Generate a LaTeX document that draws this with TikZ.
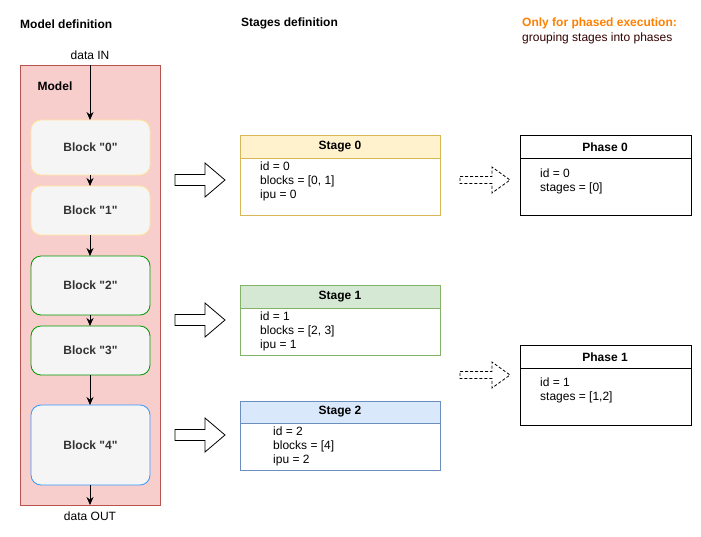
\documentclass[tikz,border=0pt]{standalone}
\usepackage{fontspec}
\setmainfont{Liberation Sans}[Ligatures=TeXOff]
\usetikzlibrary{arrows.meta}
\definecolor{modelfill}{HTML}{F8CECC}
\definecolor{modeldraw}{HTML}{B85450}
\definecolor{blockfill}{HTML}{F5F5F5}
\definecolor{yelDraw}{HTML}{FFE599}
\definecolor{grnDraw}{HTML}{009900}
\definecolor{bluDraw}{HTML}{3399FF}
\definecolor{s0fill}{HTML}{FFF2CC}
\definecolor{s0draw}{HTML}{D6B656}
\definecolor{s1fill}{HTML}{D5E8D4}
\definecolor{s1draw}{HTML}{82B366}
\definecolor{s2fill}{HTML}{DAE8FC}
\definecolor{s2draw}{HTML}{6C8EBF}
\definecolor{orangeT}{HTML}{FF8000}
\definecolor{darkT}{HTML}{330000}
\definecolor{blockT}{HTML}{333333}
\begin{document}
\begin{tikzpicture}[x=1pt,y=-1pt,
  txt/.style={font=\fontsize{12}{14}\selectfont, inner sep=0pt},
  btxt/.style={font=\fontsize{12}{14}\selectfont\bfseries, inner sep=0pt},
  blockbox/.style={draw, fill=blockfill, rounded corners=10pt, line width=0.8pt},
  flow/.style={-{Stealth[length=8pt,width=7pt]}, line width=0.8pt},
  body/.style={txt, align=left, anchor=west},
  hollow/.style={draw, fill=white, line width=0.8pt},
  dhollow/.style={draw, dashed, dash pattern=on 3pt off 2pt, line width=0.8pt}
]
\useasboundingbox (0,0) rectangle (701,536);

% titles
\node[btxt, anchor=west] (t1) at (20,24) {Model definition};
\node[btxt, anchor=west] (t2) at (241,23) {Stages definition};
\node[btxt, anchor=west, text=orangeT] (t3) at (522,23) {Only for phased execution:};
\node[txt, anchor=west, text=darkT] (t4) at (522,38) {grouping stages into phases};

% model
\draw[fill=modelfill, draw=modeldraw, line width=0.8pt] (20,65) rectangle (160,505);
\node[btxt] (modellbl) at (55,86) {Model};
\node[txt] (din) at (90,55) {data IN};
\node[txt] (dout) at (90,516) {data OUT};
\coordinate (mtop) at (90,65);
\coordinate (mbot) at (90,505);

% blocks
\draw[blockbox, draw=yelDraw] (31,120) rectangle (150,175);
\node[btxt, text=blockT] (b0) at (90.5,147.5) {Block "0"};
\draw[blockbox, draw=yelDraw] (31,186) rectangle (150,235);
\node[btxt, text=blockT] (b1) at (90.5,210.5) {Block "1"};
\draw[blockbox, draw=grnDraw] (31,256) rectangle (150,315);
\node[btxt, text=blockT] (b2) at (90.5,285.5) {Block "2"};
\draw[blockbox, draw=grnDraw] (31,326) rectangle (150,375);
\node[btxt, text=blockT] (b3) at (90.5,350.5) {Block "3"};
\draw[blockbox, draw=bluDraw] (31,405) rectangle (150,485);
\node[btxt, text=blockT] (b4) at (90.5,445) {Block "4"};

\coordinate (b0t) at (90,120); \coordinate (b0b) at (90,175);
\coordinate (b1t) at (90,186); \coordinate (b1b) at (90,235);
\coordinate (b2t) at (90,256); \coordinate (b2b) at (90,315);
\coordinate (b3t) at (90,326); \coordinate (b3b) at (90,375);
\coordinate (b4t) at (90,405); \coordinate (b4b) at (90,485);

\draw[flow] (mtop) -- (b0t);
\draw[flow] (b0b) -- (b1t);
\draw[flow] (b1b) -- (b2t);
\draw[flow] (b2b) -- (b3t);
\draw[flow] (b3b) -- (b4t);
\draw[flow] (b4b) -- (mbot);

% hollow arrows to stages
\foreach \cy in {180,320,435}{
  \draw[hollow] (175,\cy-5.5) -- (205,\cy-5.5) -- (205,\cy-17) -- (225,\cy) -- (205,\cy+17) -- (205,\cy+5.5) -- (175,\cy+5.5) -- cycle;
}

% stage 0
\draw[draw=s0draw, fill=s0fill, line width=0.8pt] (240,135) rectangle (440,158);
\draw[draw=s0draw, fill=white, line width=0.8pt] (240,158) rectangle (440,215);
\node[btxt] (s0h) at (340,147) {Stage 0};
\node[body] (s0b) at (260,181) {id = 0\\blocks = [0, 1]\\ipu = 0};

% stage 1
\draw[draw=s1draw, fill=s1fill, line width=0.8pt] (240,285) rectangle (440,308);
\draw[draw=s1draw, fill=white, line width=0.8pt] (240,308) rectangle (440,355);
\node[btxt] (s1h) at (340,297) {Stage 1};
\node[body] (s1b) at (260,331) {id = 1\\blocks = [2, 3]\\ipu = 1};

% stage 2
\draw[draw=s2draw, fill=s2fill, line width=0.8pt] (240,401) rectangle (440,423);
\draw[draw=s2draw, fill=white, line width=0.8pt] (240,423) rectangle (440,470);
\node[btxt] (s2h) at (340,412) {Stage 2};
\node[body] (s2b) at (273,446) {id = 2\\blocks = [4]\\ipu = 2};

% dashed arrows to phases
\foreach \cy in {180,375}{
  \draw[dhollow] (460,\cy-3.5) -- (492,\cy-3.5) -- (492,\cy-13) -- (510,\cy) -- (492,\cy+13) -- (492,\cy+3.5) -- (460,\cy+3.5) -- cycle;
}

% phase 0
\draw[line width=0.8pt, fill=white] (520,135) rectangle (691,215);
\draw[line width=0.8pt] (520,158) -- (691,158);
\node[btxt] (p0h) at (605,147) {Phase 0};
\node[body] (p0b) at (540,181) {id = 0\\stages = [0]};

% phase 1
\draw[line width=0.8pt, fill=white] (520,345) rectangle (691,425);
\draw[line width=0.8pt] (520,368) -- (691,368);
\node[btxt] (p1h) at (605,357) {Phase 1};
\node[body] (p1b) at (540,390.5) {id = 1\\stages = [1,2]};
\end{tikzpicture}
\end{document}
